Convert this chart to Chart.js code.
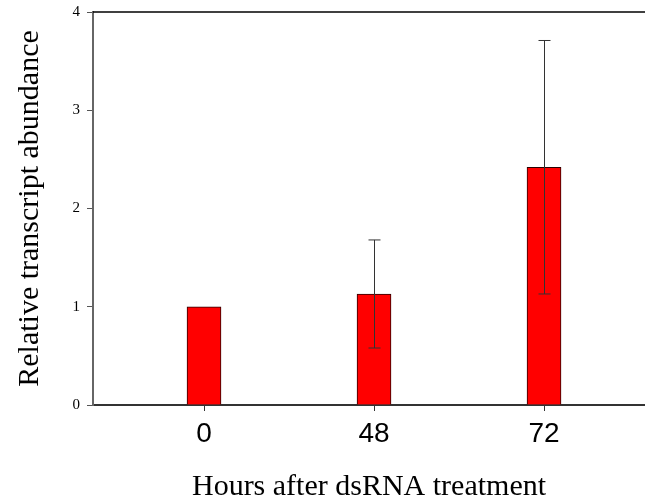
<!DOCTYPE html>
<html>
<head>
<meta charset="utf-8">
<script src="https://cdn.jsdelivr.net/npm/chart.js@4.4.1/dist/chart.umd.min.js"></script>
<style>
  html, body { margin: 0; padding: 0; background: #fff; }
  #wrap { width: 645px; height: 504px; }
</style>
</head>
<body>
<div id="wrap"><canvas id="chart" width="645" height="504"></canvas></div>
<script>
// hours after treatment, mean relative abundance, error (+/-)
var hours = ['0', '48', '72'];
var means = [1.0, 1.13, 2.42];
var errors = [0, 0.55, 1.29];
var yTicks = [0, 1, 2, 3, 4];

var serif = "'Liberation Serif', 'Times New Roman', serif";
var sans = "'Liberation Sans', Arial, sans-serif";

var points = [];
for (var i = 0; i < hours.length; i++) {
	points.push({x: i, y: means[i]});
}

// error bars + top frame line
var extras = {
	id: 'extras',
	afterDatasetsDraw: function(chart) {
		var ctx = chart.ctx;
		var xs = chart.scales.x;
		var ys = chart.scales.y;
		var area = chart.chartArea;

		ctx.save();
		ctx.strokeStyle = '#333';
		ctx.lineWidth = 1;
		for (var i = 0; i < means.length; i++) {
			if (!errors[i]) continue;
			var x = Math.round(xs.getPixelForValue(i)) + 0.5;
			var hi = ys.getPixelForValue(means[i] + errors[i]);
			var lo = ys.getPixelForValue(means[i] - errors[i]);
			ctx.beginPath();
			ctx.moveTo(x, hi);
			ctx.lineTo(x, lo);
			ctx.moveTo(x - 6, hi);
			ctx.lineTo(x + 6, hi);
			ctx.moveTo(x - 6, lo);
			ctx.lineTo(x + 6, lo);
			ctx.stroke();
		}

		ctx.strokeStyle = '#000';
		ctx.lineWidth = 1.5;
		ctx.beginPath();
		ctx.moveTo(area.left, area.top);
		ctx.lineTo(area.right, area.top);
		ctx.stroke();
		ctx.restore();
	}
};

var chart = new Chart(document.getElementById('chart'), {
	type: 'bar',
	data: {
		datasets: [{
			data: points,
			backgroundColor: '#ff0000',
			borderColor: '#2a0000',
			borderWidth: 1,
			barThickness: 34
		}]
	},
	options: {
		responsive: false,
		animation: false,
		layout: { padding: { top: 12, right: 0, left: 0, bottom: 0 } },
		plugins: {
			legend: { display: false },
			tooltip: { enabled: false }
		},
		scales: {
			x: {
				type: 'linear',
				offset: false,
				min: -0.653,
				max: 2.594,
				afterFit: function(scale) { scale.height = 99; },
				afterBuildTicks: function(scale) {
					scale.ticks = hours.map(function(h, i) { return {value: i}; });
				},
				grid: { offset: false, drawOnChartArea: false, drawTicks: true, tickLength: 6, color: '#333' },
				border: { display: true, color: '#333', width: 2 },
				ticks: {
					padding: 6,
					color: '#000',
					font: { family: sans, size: 28 },
					callback: function(v) { return hours[v]; }
				},
				title: {
					display: true,
					text: 'Hours after dsRNA treatment',
					color: '#000',
					font: { family: serif, size: 30, lineHeight: 1.1 },
					padding: { top: 0, bottom: 0 }
				}
			},
			y: {
				min: 0,
				max: 4,
				afterFit: function(scale) { scale.width = 93; },
				afterBuildTicks: function(scale) {
					scale.ticks = yTicks.map(function(t) { return {value: t}; });
				},
				grid: { drawOnChartArea: false, drawTicks: true, tickLength: 6, color: '#555' },
				border: { display: true, color: '#666', width: 2 },
				ticks: {
					padding: 7,
					color: '#000',
					font: { family: serif, size: 15, lineHeight: 0.6 }
				},
				title: {
					display: true,
					text: 'Relative transcript abundance',
					color: '#000',
					font: { family: serif, size: 30, lineHeight: 1.1 },
					padding: { top: 14, bottom: 0 }
				}
			}
		}
	},
	plugins: [extras]
});
</script>
</body>
</html>
